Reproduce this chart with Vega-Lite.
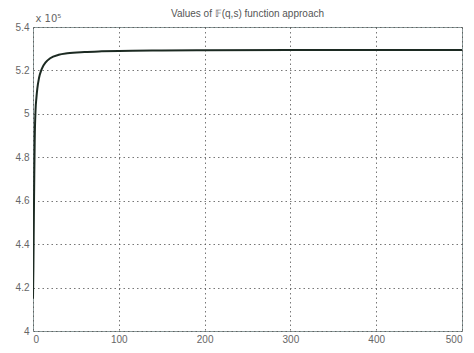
{
  "$schema": "https://vega.github.io/schema/vega-lite/v6.json",
  "width": 429,
  "height": 304,
  "autosize": {"type": "none"},
  "padding": {"left": 33, "top": 27, "right": 12, "bottom": 22},
  "background": "white",
  "title": {
    "text": "Values of 𝔽(q,s) function approach",
    "font": "Liberation Sans",
    "fontSize": 10,
    "fontWeight": "normal",
    "color": "#555555",
    "anchor": "middle",
    "offset": 7,
    "dy": 13
  },
  "config": {
    "view": {"stroke": "#8a9a9a", "strokeWidth": 1},
    "axis": {
      "labelFont": "Liberation Sans",
      "labelFontSize": 10,
      "labelColor": "#666666",
      "domain": false,
      "ticks": false,
      "grid": true,
      "gridColor": "#555555",
      "gridDash": [1.5, 3],
      "gridOpacity": 0.8,
      "gridWidth": 1
    }
  },
  "data": {
    "values": [
      {"q": 0, "F": 415000},
      {"q": 0.5, "F": 430000},
      {"q": 1, "F": 452000},
      {"q": 1.5, "F": 472000},
      {"q": 2, "F": 488000},
      {"q": 3, "F": 502000},
      {"q": 4, "F": 507500},
      {"q": 5, "F": 511500},
      {"q": 7, "F": 516500},
      {"q": 10, "F": 520500},
      {"q": 15, "F": 523800},
      {"q": 20, "F": 525600},
      {"q": 30, "F": 527200},
      {"q": 40, "F": 527900},
      {"q": 60, "F": 528500},
      {"q": 80, "F": 528800},
      {"q": 100, "F": 529000},
      {"q": 150, "F": 529200},
      {"q": 200, "F": 529300},
      {"q": 300, "F": 529400},
      {"q": 400, "F": 529400},
      {"q": 500, "F": 529400}
    ]
  },
  "mark": {"type": "line", "color": "#1c2a22", "strokeWidth": 2, "interpolate": "monotone", "clip": true},
  "encoding": {
    "x": {
      "field": "q",
      "type": "quantitative",
      "scale": {"domain": [0, 500], "nice": false, "zero": false},
      "axis": {"values": [0, 100, 200, 300, 400, 500], "title": null, "labelPadding": 3}
    },
    "y": {
      "field": "F",
      "type": "quantitative",
      "scale": {"domain": [400000, 540000], "nice": false, "zero": false},
      "axis": {
        "values": [400000, 420000, 440000, 460000, 480000, 500000, 520000, 540000],
        "labelExpr": "format(datum.value / 100000, '~g')",
        "labelPadding": 4,
        "title": "x 10⁵",
        "titleFont": "DejaVu Sans",
        "titleFontSize": 10,
        "titleFontWeight": "normal",
        "titleColor": "#666666",
        "titleAngle": 0,
        "titleAlign": "left",
        "titleBaseline": "alphabetic",
        "titleX": 2,
        "titleY": -6
      }
    }
  }
}
